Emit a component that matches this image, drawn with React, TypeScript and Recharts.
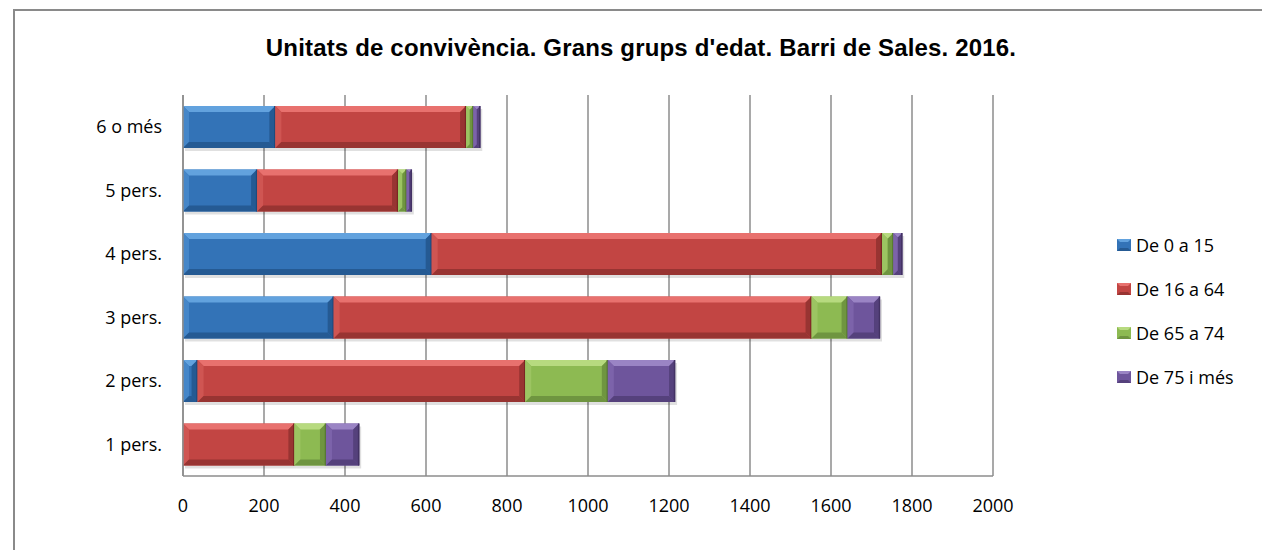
import React from 'react';
import { BarChart, Bar, XAxis, YAxis, CartesianGrid } from 'recharts';

const categories = ['6 o més', '5 pers.', '4 pers.', '3 pers.', '2 pers.', '1 pers.'];
const age0to15 = [228, 183, 614, 372, 36, 0];
const age16to64 = [471, 348, 1112, 1180, 809, 275];
const age65to74 = [18, 21, 28, 89, 204, 78];
const age75plus = [17, 13, 22, 80, 166, 82];
const seriesNames = ['De 0 a 15', 'De 16 a 64', 'De 65 a 74', 'De 75 i més'];
const xTicks = [0, 200, 400, 600, 800, 1000, 1200, 1400, 1600, 1800, 2000];
const title = "Unitats de convivència. Grans grups d'edat. Barri de Sales. 2016.";

const data = categories.map((c, i) => ({
  cat: c,
  a: age0to15[i],
  b: age16to64[i],
  c: age65to74[i],
  d: age75plus[i],
}));

const palettes = [
  { base: '#3373b7', light: '#62a2de', side: '#4586c8', dark: '#255a93', edge: '#1d4a7c' },
  { base: '#c24543', light: '#e8716e', side: '#cf5552', dark: '#983432', edge: '#7a2523' },
  { base: '#8dba52', light: '#b7da7f', side: '#9cc462', dark: '#6f9540', edge: '#577a2e' },
  { base: '#6e559c', light: '#9a84c4', side: '#7c63aa', dark: '#55417c', edge: '#433264' },
];

const FONT = '"Open Sans", sans-serif';

const makeShape = (p: typeof palettes[0]) => (props: any) => {
  const { x, y, width, height } = props;
  if (!width || width <= 0) return null;
  const w = width;
  const h = height;
  const b = Math.min(6, w / 2);
  const pts = (arr: number[][]) => arr.map((q) => q.join(',')).join(' ');
  return (
    <g>
      <rect x={x + 2} y={y + 3} width={w} height={h} fill="#000" opacity={0.12} />
      <rect x={x} y={y} width={w} height={h} fill={p.base} />
      <polygon points={pts([[x, y], [x + w, y], [x + w - b, y + b], [x + b, y + b]])} fill={p.light} />
      <polygon points={pts([[x, y], [x + b, y + b], [x + b, y + h - b], [x, y + h]])} fill={p.side} />
      <polygon points={pts([[x + w, y], [x + w - b, y + b], [x + w - b, y + h - b], [x + w, y + h]])} fill={p.dark} />
      <polygon points={pts([[x, y + h], [x + w, y + h], [x + w - b, y + h - b], [x + b, y + h - b]])} fill={p.dark} />
      <line x1={x + w - 0.5} y1={y} x2={x + w - 0.5} y2={y + h} stroke={p.edge} strokeWidth={1.5} />
    </g>
  );
};

export default function App() {
  return (
    <div style={{ position: 'absolute', left: 0, top: 0, width: 1262, height: 550, background: '#fff', overflow: 'hidden' }}>
      <div style={{ position: 'absolute', left: 13, top: 9, width: 1262, height: 560, borderLeft: '2px solid #8a8a8a', borderTop: '2px solid #8a8a8a' }} />
      <div style={{ position: 'absolute', left: 0, top: 0 }}>
        <BarChart
          width={1262}
          height={550}
          data={data}
          layout="vertical"
          margin={{ top: 95, right: 269, bottom: 44, left: 83 }}
          barSize={42}
        >
          <CartesianGrid horizontal={false} vertical={true} stroke="#8c8c8c" strokeWidth={1.5} />
          <XAxis
            type="number"
            domain={[0, 2000]}
            ticks={xTicks}
            interval={0}
            height={30}
            tickSize={0}
            tickMargin={23}
            axisLine={{ stroke: '#8c8c8c', strokeWidth: 1.5 }}
            tick={{ fill: '#000', fontFamily: FONT, fontSize: 18 }}
          />
          <YAxis
            type="category"
            dataKey="cat"
            width={100}
            tickSize={0}
            tickMargin={21}
            axisLine={{ stroke: '#8c8c8c', strokeWidth: 1.5 }}
            tick={{ fill: '#000', fontFamily: FONT, fontSize: 18 }}
          />
          <Bar dataKey="a" name={seriesNames[0]} stackId="s" shape={makeShape(palettes[0])} isAnimationActive={false} />
          <Bar dataKey="b" name={seriesNames[1]} stackId="s" shape={makeShape(palettes[1])} isAnimationActive={false} />
          <Bar dataKey="c" name={seriesNames[2]} stackId="s" shape={makeShape(palettes[2])} isAnimationActive={false} />
          <Bar dataKey="d" name={seriesNames[3]} stackId="s" shape={makeShape(palettes[3])} isAnimationActive={false} />
        </BarChart>
      </div>
      <div
        style={{
          position: 'absolute',
          left: 0,
          width: 1282,
          top: 36,
          lineHeight: '24px',
          textAlign: 'center',
          fontFamily: '"Liberation Sans", Arial, sans-serif',
          fontWeight: 'bold',
          fontSize: 24,
          letterSpacing: 0.17,
          color: '#000',
          whiteSpace: 'nowrap',
        }}
      >
        {title}
      </div>
      <div style={{ position: 'absolute', left: 1117, top: 223, fontFamily: FONT, fontSize: 18, color: '#000' }}>
        {seriesNames.map((n, i) => (
          <div key={n} style={{ display: 'flex', alignItems: 'center', height: 44, whiteSpace: 'nowrap' }}>
            <svg width={14} height={12} style={{ marginRight: 5 }}>
              <rect x={0} y={0} width={14} height={12} fill={palettes[i].base} />
              <polygon points="0,0 14,0 11,3 3,3" fill={palettes[i].light} />
              <polygon points="0,12 14,12 11,9 3,9" fill={palettes[i].dark} />
            </svg>
            <span>{n}</span>
          </div>
        ))}
      </div>
    </div>
  );
}
